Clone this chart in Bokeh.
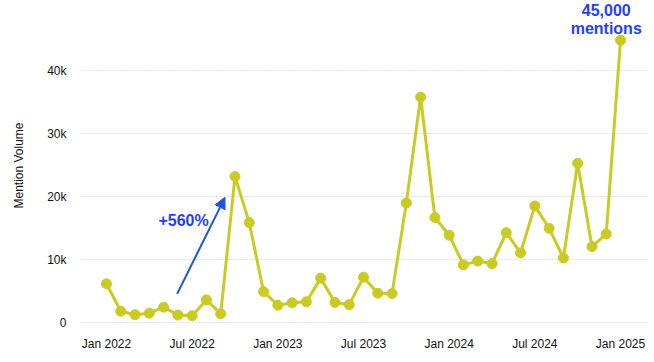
from bokeh.plotting import figure
from bokeh.models import FixedTicker, Range1d, Arrow, NormalHead, Label, ColumnDataSource
from bokeh.embed import file_html
from bokeh.resources import INLINE

# Monthly mention volume, Jan 2022 .. Jan 2025
months = [
    "2022-01", "2022-02", "2022-03", "2022-04", "2022-05", "2022-06",
    "2022-07", "2022-08", "2022-09", "2022-10", "2022-11", "2022-12",
    "2023-01", "2023-02", "2023-03", "2023-04", "2023-05", "2023-06",
    "2023-07", "2023-08", "2023-09", "2023-10", "2023-11", "2023-12",
    "2024-01", "2024-02", "2024-03", "2024-04", "2024-05", "2024-06",
    "2024-07", "2024-08", "2024-09", "2024-10", "2024-11", "2024-12",
    "2025-01",
]
mentions = [
    6200, 1850, 1300, 1550, 2500, 1250,
    1150, 3650, 1450, 23200, 15900, 4950,
    2800, 3200, 3350, 7100, 3250, 2900,
    7250, 4700, 4650, 19000, 35800, 16700,
    13900, 9200, 9800, 9400, 14300, 11100,
    18550, 15000, 10300, 25300, 12100, 14100,
    44800,
]
tick_positions = [0, 6, 12, 18, 24, 30, 36]
tick_labels = ["Jan 2022", "Jul 2022", "Jan 2023", "Jul 2023", "Jan 2024", "Jul 2024", "Jan 2025"]
y_ticks = [0, 10000, 20000, 30000, 40000]
y_tick_labels = ["0", "10k", "20k", "30k", "40k"]

FONT = "Liberation Sans"
LINE = "#c9cb22"
BLUE_TEXT = "#1f40ff"
BLUE_ARROW = "#1a56dc"

idx = list(range(len(months)))
src = ColumnDataSource(dict(x=idx, y=mentions, m=months))

p = figure(width=654, height=362, output_backend="svg", toolbar_location=None,
           x_range=Range1d(-1.75, 37.96), y_range=Range1d(-1200, 51100),
           min_border_left=81, min_border_right=6, min_border_top=0, min_border_bottom=32)
p.outline_line_color = None
p.background_fill_color = "white"
p.border_fill_color = "white"

p.line("x", "y", source=src, line_color=LINE, line_width=3)
p.scatter("x", "y", source=src, size=10, fill_color=LINE, line_color=LINE)

# axes
p.xaxis.ticker = FixedTicker(ticks=tick_positions)
p.xaxis.major_label_overrides = {t: l for t, l in zip(tick_positions, tick_labels)}
p.yaxis.ticker = FixedTicker(ticks=y_ticks)
p.yaxis.major_label_overrides = {t: l for t, l in zip(y_ticks, y_tick_labels)}
for ax in (p.xaxis[0], p.yaxis[0]):
    ax.axis_line_color = None
    ax.major_tick_line_color = None
    ax.minor_tick_line_color = None
    ax.major_tick_out = 0
    ax.major_tick_in = 0
    ax.major_label_text_font = FONT
    ax.major_label_text_font_size = "12px"
    ax.major_label_text_color = "#111111"
p.xaxis.major_label_standoff = 6
p.yaxis.major_label_standoff = 15
p.yaxis.axis_label = "Mention Volume"
p.yaxis.axis_label_text_font = FONT
p.yaxis.axis_label_text_font_size = "12px"
p.yaxis.axis_label_text_font_style = "normal"
p.yaxis.axis_label_text_color = "#111111"
p.yaxis.axis_label_standoff = 18

p.xgrid.grid_line_color = None
p.ygrid.grid_line_color = "#c4c4c4"
p.ygrid.grid_line_dash = "1 2"
p.ygrid.grid_line_width = 1

# annotations
p.add_layout(Arrow(end=NormalHead(size=11, fill_color=BLUE_ARROW, line_color=BLUE_ARROW),
                   x_start=4.95, y_start=4600, x_end=8.3, y_end=19900,
                   line_color=BLUE_ARROW, line_width=2))
p.add_layout(Label(x=5.4, y=16300, text="+560%", text_font=FONT, text_font_size="16px",
                   text_font_style="bold", text_color=BLUE_TEXT, text_align="center",
                   text_baseline="middle"))
p.add_layout(Label(x=35.0, y=49600, text="45,000", text_font=FONT,
                   text_font_size="16px", text_font_style="bold", text_color=BLUE_TEXT,
                   text_align="center", text_baseline="middle"))
p.add_layout(Label(x=35.0, y=46600, text="mentions", text_font=FONT,
                   text_font_size="16px", text_font_style="bold", text_color=BLUE_TEXT,
                   text_align="center", text_baseline="middle"))

open("out.html", "w").write(file_html(p, INLINE))
